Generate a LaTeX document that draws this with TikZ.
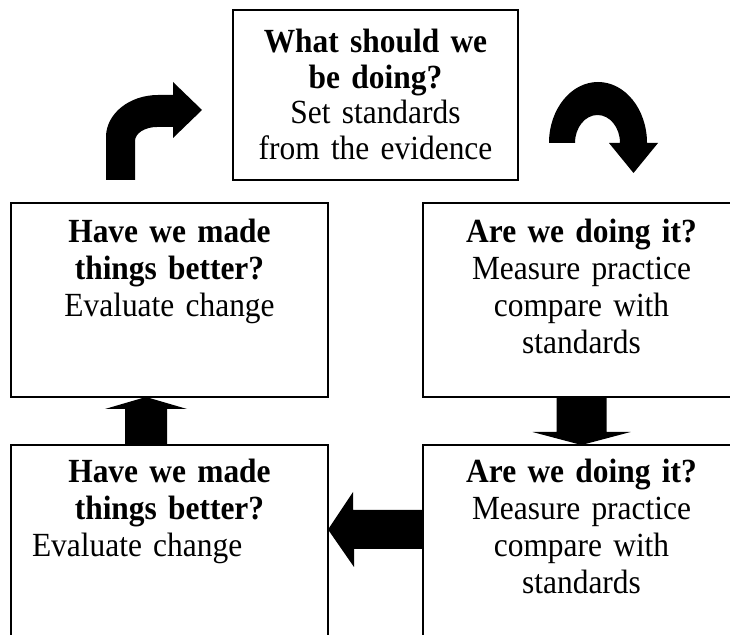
\documentclass[tikz,border=0pt]{standalone}
\usepackage{fontspec}
\setmainfont{Liberation Serif}[FakeStretch=0.93]
\usepackage{tikz}
\usetikzlibrary{positioning}

\begin{document}
\begin{tikzpicture}[x=1pt,y=1pt,
  stagebox/.style={draw,line width=1.5pt,minimum width=317pt,minimum height=194pt,inner sep=0pt,outer sep=0pt},
  stagetext/.style={text width=275pt,align=center,inner sep=0pt,anchor=base,font=\fontsize{33.8}{36.8}\selectfont},
  blockarrow/.style={fill=black}]
\clip(0,0)rectangle(730,634);% page frame

\node[stagebox,minimum width=285pt,minimum height=170pt] (what) at (375.5,539) {};% the top box
\node[stagebox] (better) at (169.5,334) {};
\node[stagebox,below=48pt of better] (better2) {};
\node[stagebox,right=95pt of better] (doing) {};
\node[stagebox,below=48pt of doing] (doing2) {};

% box texts
\node[stagetext,font=\fontsize{33.8}{35.5}\selectfont] (whattext) at ([yshift=-43pt]what.north) {\textbf{What should we\\be doing?}\\Set standards\\from the evidence};
\node[stagetext] (bettertext) at ([yshift=-40pt]better.north) {\textbf{Have we made\\things better?}\\Evaluate change};
\node[stagetext] (doingtext) at ([yshift=-40pt]doing.north) {\textbf{Are we doing it?}\\Measure practice\\compare with\\standards};
\node[stagetext] (better2text) at ([yshift=-38pt]better2.north) {\textbf{Have we made\\things better?}\\\makebox[275pt][l]{Evaluate change}};
\node[stagetext] (doing2text) at ([yshift=-38pt]doing2.north) {\textbf{Are we doing it?}\\Measure practice\\compare with\\standards};

% turning arrows at the top
\coordinate (upturn) at ([xshift=95pt,yshift=23pt]better.north west);
\coordinate (downturn) at ([xshift=126pt,yshift=60pt]doing.north west);
\fill[blockarrow](upturn)--++(0,43)arc[start angle=180,end angle=90,x radius=52,y radius=42]
  --++(15,0)--++(0,13)--++(29,-28)--++(-29,-28)--++(0,11)--++(-16,0)
  arc[start angle=90,end angle=180,x radius=22,y radius=14]--++(0,-39)--cycle;
\fill[blockarrow](downturn)arc[start angle=180,end angle=0,x radius=49,y radius=61]
  --++(11,0)--++(-24.5,-30)--++(-24.5,30)--++(11,0)
  arc[start angle=0,end angle=180,x radius=22.5,y radius=28]--cycle;

% straight block arrows between the boxes
\fill[blockarrow]([xshift=-25pt]doing.south)--++(0,-35)--++(-24,0)--(doing2.north)
  --++(49,13)--++(-24,0)--([xshift=25pt]doing.south)--cycle;
\fill[blockarrow]([yshift=32pt]doing2.west)--++(-70,0)--++(0,18)--([yshift=12.5pt]better2.east)
  --++(26,-37.5)--++(0,18)--([yshift=-7pt]doing2.west)--cycle;
\fill[blockarrow]([xshift=-44.5pt]better2.north)--++(0,36)--++(-20,0)--([xshift=-23.5pt]better.south)
  --++(41,-12)--++(-20,0)--([xshift=-2.5pt]better2.north)--cycle;

\end{tikzpicture}
\end{document}
